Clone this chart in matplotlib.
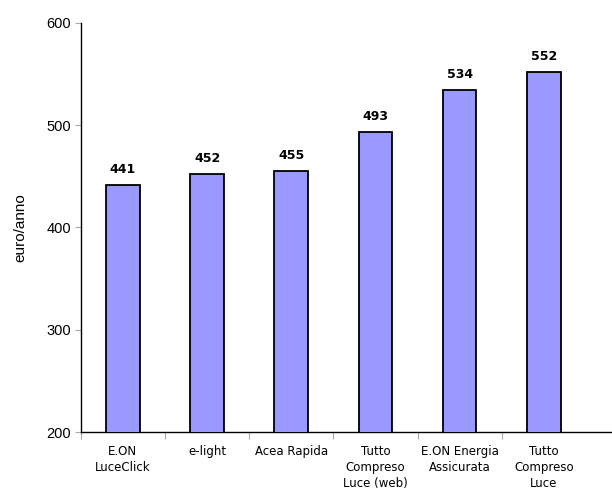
import matplotlib
matplotlib.use("Agg")
import matplotlib.pyplot as plt

categories = ["E.ON\nLuceClick", "e-light", "Acea Rapida", "Tutto\nCompreso\nLuce (web)",
              "E.ON Energia\nAssicurata", "Tutto\nCompreso\nLuce"]
values = [441, 452, 455, 493, 534, 552]
yticks = [200, 300, 400, 500, 600]

plt.rcParams['font.family'] = ['DejaVu Sans']
fig = plt.figure(figsize=(6.12, 4.95), dpi=100)
ax = fig.add_axes([0.132, 0.127, 0.868, 0.827])
x = list(range(len(categories)))
ax.bar(x, values, width=0.4, color="#9999FF", edgecolor="black", linewidth=1.3, zorder=3)
for xi, v in zip(x, values):
    ax.text(xi, v + 9, str(v), ha="center", va="bottom", fontsize=9, fontweight="bold")
ax.set_ylim(200, 600)
ax.set_xlim(-0.5, 5.81)
ax.set_yticks(yticks)
ax.set_yticklabels([str(t) for t in yticks], family=["Liberation Sans"], fontsize=10.5)
ax.set_xticks([i - 0.5 for i in range(len(categories))], minor=False)
ax.set_xticklabels([])
ax.set_xticks(x, minor=True)
ax.set_xticklabels(categories, minor=True, fontsize=8.5, linespacing=1.3)
ax.tick_params(axis="x", which="minor", length=0, pad=9)
ax.tick_params(axis="x", which="major", length=5, color="#aaaaaa", direction="out")
ax.tick_params(axis="y", length=4, color="#aaaaaa", pad=3)
ax.spines["top"].set_visible(False)
ax.spines["right"].set_visible(False)
ax.spines["left"].set_linewidth(1.0)
ax.spines["bottom"].set_linewidth(1.0)
ax.set_ylabel("euro/anno", fontsize=11, family=["Liberation Sans"], labelpad=14)
fig.savefig("out.png", dpi=100)
